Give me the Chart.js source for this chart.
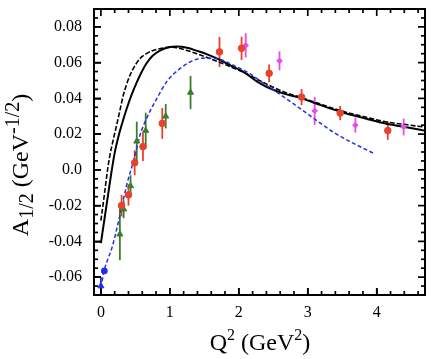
<!DOCTYPE html>
<html><head><meta charset="utf-8">
<script src="https://cdn.jsdelivr.net/npm/chart.js@4.4.0/dist/chart.umd.min.js"></script>
<style>html,body{margin:0;padding:0;background:#fff;}#wrap{width:438px;height:359px;}</style>
</head><body><div id="wrap"><canvas id="c" width="438" height="359"></canvas></div>
<script>
// ---- tick values / labels ----
const xTickValues = [0, 1, 2, 3, 4];
const xTickLabels = ['0', '1', '2', '3', '4'];
const yTickValues = [-0.06, -0.04, -0.02, 0, 0.02, 0.04, 0.06, 0.08];
const yTickLabels = ['-0.06', '-0.04', '-0.02', '0.0', '0.02', '0.04', '0.06', '0.08'];
const xMinorTicks = [0, 0.2, 0.4, 0.6, 0.8, 1, 1.2, 1.4, 1.6, 1.8, 2, 2.2, 2.4, 2.6, 2.8, 3, 3.2, 3.4, 3.6, 3.8, 4, 4.2, 4.4, 4.6];
const yMinorTicks = [-0.065, -0.06, -0.055, -0.05, -0.045, -0.04, -0.035, -0.03, -0.025, -0.02, -0.015, -0.01, -0.005, 0, 0.005, 0.01, 0.015, 0.02, 0.025, 0.03, 0.035, 0.04, 0.045, 0.05, 0.055, 0.06, 0.065, 0.07, 0.075, 0.08, 0.085];

// ---- theory curves ----
const solidX = [0.0, 0.05, 0.1, 0.15, 0.2, 0.25, 0.3, 0.37, 0.45, 0.52, 0.6, 0.66, 0.75, 0.85, 1.0, 1.1, 1.25, 1.4, 1.55, 1.72, 1.9, 2.05, 2.26, 2.4, 2.64, 2.88, 3.13, 3.46, 3.85, 4.14, 4.45, 4.72];
const solidY = [-0.041, -0.028, -0.015, -0.002, 0.0095, 0.018, 0.025, 0.0338, 0.0425, 0.049, 0.0555, 0.0595, 0.0638, 0.0666, 0.0687, 0.069, 0.0683, 0.0665, 0.0645, 0.0617, 0.058, 0.0553, 0.0495, 0.0465, 0.0428, 0.0404, 0.037, 0.0327, 0.0286, 0.0258, 0.0237, 0.0218];

const dashX = [0.0, 0.05, 0.1, 0.13, 0.18, 0.227, 0.28, 0.324, 0.37, 0.42, 0.49, 0.565, 0.66, 0.758, 0.9, 1.0, 1.1, 1.25, 1.39, 1.55, 1.72, 1.9, 2.1, 2.3, 2.5, 2.7, 2.9, 3.13, 3.46, 3.85, 4.14, 4.45, 4.72];
const dashY = [-0.0284, -0.014, 0.001, 0.008, 0.017, 0.0248, 0.034, 0.0416, 0.0475, 0.0528, 0.058, 0.0622, 0.065, 0.0668, 0.0682, 0.0686, 0.0683, 0.0668, 0.065, 0.0627, 0.0602, 0.0573, 0.054, 0.05, 0.0462, 0.043, 0.0405, 0.0375, 0.0333, 0.0294, 0.0268, 0.0252, 0.0238];

const blueX = [0.0, 0.048, 0.1, 0.155, 0.275, 0.372, 0.468, 0.517, 0.565, 0.66, 0.81, 0.95, 1.145, 1.34, 1.48, 1.68, 1.92, 2.16, 2.3, 2.4, 2.55, 2.69, 2.88, 3.13, 3.37, 3.61, 3.97];
const blueY = [-0.066, -0.0564, -0.05, -0.0443, -0.0256, -0.0088, 0.0043, 0.0118, 0.0192, 0.0286, 0.0398, 0.0491, 0.0566, 0.0612, 0.0625, 0.0622, 0.0586, 0.0538, 0.05, 0.0473, 0.0435, 0.0398, 0.0346, 0.0276, 0.0211, 0.0159, 0.009];

// ---- data points (value, error) ----
const redX = [0.30, 0.40, 0.49, 0.61, 0.89, 1.72, 2.04, 2.44, 2.91, 3.47, 4.16];
const redY = [-0.020, -0.014, 0.004, 0.013, 0.026, 0.066, 0.068, 0.054, 0.0407, 0.0318, 0.022];
const redErr = [0.006, 0.006, 0.007, 0.008, 0.0086, 0.0084, 0.0065, 0.005, 0.0045, 0.004, 0.0052];

const greenX = [0.275, 0.33, 0.43, 0.52, 0.65, 0.94, 1.30];
const greenY = [-0.036, -0.022, -0.009, 0.016, 0.022, 0.030, 0.0433];
const greenErr = [0.0145, 0.005, 0.006, 0.011, 0.01, 0.0068, 0.0093];

const pinkX = [2.10, 2.59, 3.10, 3.69, 4.39];
const pinkY = [0.0697, 0.061, 0.033, 0.025, 0.024];
const pinkErr = [0.0068, 0.0053, 0.0078, 0.0042, 0.0047];

const blueSqX = [0.05];
const blueSqY = [-0.0565];
const blueSqErr = [0.0015];
const blueTriX = [0.0];
const blueTriY = [-0.065];
const blueTriErr = [0.005];

const RED = '#e8412c', GREEN = '#3c7d2c', PINK = '#e84be8', BLUE = '#1f2fe6';

const pts = (xs, ys) => xs.map((x, i) => ({x: x, y: ys[i]}));

const errorSets = [
  {x: redX, y: redY, e: redErr, c: RED},
  {x: greenX, y: greenY, e: greenErr, c: GREEN},
  {x: pinkX, y: pinkY, e: pinkErr, c: PINK},
  {x: blueSqX, y: blueSqY, e: blueSqErr, c: BLUE},
  {x: blueTriX, y: blueTriY, e: blueTriErr, c: BLUE}
];

const xTickMarks = xMinorTicks.map(v => ({v: v, major: xTickValues.indexOf(v) >= 0}));
const yTickMarks = yMinorTicks.map(v => ({v: v, major: yTickValues.some(t => Math.abs(t - v) < 1e-9)}));

const SERIF = '"Liberation Serif", "DejaVu Serif", serif';

function measureParts(ctx, parts) {
  let w = 0;
  parts.forEach(p => { ctx.font = p[1] + 'px ' + SERIF; w += ctx.measureText(p[0]).width; });
  return w;
}
function drawParts(ctx, parts, x, y) {
  let cx = x;
  parts.forEach(p => {
    ctx.font = p[1] + 'px ' + SERIF;
    ctx.fillText(p[0], cx, y + p[2]);
    cx += ctx.measureText(p[0]).width;
  });
}

const errorPlugin = {
  id: 'errbars',
  beforeDatasetsDraw(chart) {
    const {ctx, chartArea: a} = chart;
    const xs = chart.scales.x, ys = chart.scales.y;
    ctx.save();
    ctx.beginPath(); ctx.rect(a.left, a.top, a.right - a.left, a.bottom - a.top); ctx.clip();
    ctx.lineWidth = 1.8;
    errorSets.forEach(s => {
      ctx.strokeStyle = s.c;
      s.x.forEach((xv, i) => {
        const px = xs.getPixelForValue(xv);
        ctx.beginPath();
        ctx.moveTo(px, ys.getPixelForValue(s.y[i] - s.e[i]));
        ctx.lineTo(px, ys.getPixelForValue(s.y[i] + s.e[i]));
        ctx.stroke();
      });
    });
    ctx.restore();

    ctx.save();
    ctx.strokeStyle = '#000000';
    ctx.lineWidth = 1.7;
    xTickMarks.forEach(t => {
      const px = xs.getPixelForValue(t.v);
      const L = t.major ? 7 : 4;
      ctx.beginPath();
      ctx.moveTo(px, a.bottom); ctx.lineTo(px, a.bottom - L);
      ctx.stroke();
      ctx.beginPath();
      ctx.moveTo(px, a.top); ctx.lineTo(px, a.top + L);
      ctx.stroke();
    });
    yTickMarks.forEach(t => {
      const py = ys.getPixelForValue(t.v);
      const L = t.major ? 7 : 4;
      ctx.beginPath();
      ctx.moveTo(a.left, py); ctx.lineTo(a.left + L, py);
      ctx.stroke();
      ctx.beginPath();
      ctx.moveTo(a.right, py); ctx.lineTo(a.right - L, py);
      ctx.stroke();
    });
    ctx.restore();
  },
  afterDatasetsDraw(chart) {
    const ctx = chart.ctx;
    const a = chart.chartArea;
    ctx.save();
    ctx.strokeStyle = '#000000';
    ctx.setLineDash([]);
    ctx.lineWidth = 2;
    ctx.strokeRect(a.left, a.top, a.right - a.left, a.bottom - a.top);
    ctx.restore();
  }
};

const titlePlugin = {
  id: 'titles',
  afterDraw(chart) {
    const ctx = chart.ctx;
    ctx.save();
    ctx.fillStyle = '#000000';
    ctx.textBaseline = 'alphabetic';
    ctx.textAlign = 'left';
    const xParts = [['Q', 24, 0], ['2', 16, -10], [' (GeV', 24, 0], ['2', 16, -10], [')', 24, 0]];
    const xw = measureParts(ctx, xParts);
    drawParts(ctx, xParts, 260 - xw / 2, 350);

    const yParts = [['A', 24, 0], ['1/2', 20, 5], [' (GeV', 24, 0], ['-1/2', 20, -9], [')', 24, 0]];
    const yw = measureParts(ctx, yParts);
    ctx.translate(28, 165);
    ctx.rotate(-Math.PI / 2);
    drawParts(ctx, yParts, -yw / 2, 0);
    ctx.restore();
  }
};

const lineDs = (xs, ys, color, width, dash) => ({
  data: pts(xs, ys), showLine: true, borderColor: color, borderWidth: width,
  borderDash: dash, pointRadius: 0, fill: false, cubicInterpolationMode: 'monotone'
});
const ptDs = (xs, ys, color, style, r) => ({
  data: pts(xs, ys), showLine: false, pointStyle: style, pointRadius: r,
  backgroundColor: color, borderColor: color, borderWidth: 1
});

const inwardGrid = {display: true, drawOnChartArea: false, drawTicks: true, tickLength: -7, color: '#000000', lineWidth: 1.7};

new Chart(document.getElementById('c'), {
  type: 'scatter',
  data: {
    datasets: [
      ptDs(redX, redY, RED, 'circle', 3.3),
      ptDs(greenX, greenY, GREEN, 'triangle', 3.5),
      ptDs(pinkX, pinkY, PINK, 'rectRot', 2.8),
      ptDs(blueSqX, blueSqY, BLUE, 'rectRounded', 3.2),
      ptDs(blueTriX, blueTriY, BLUE, 'triangle', 3.5),
      lineDs(blueX, blueY, '#2233e0', 1.5, [4, 2.5]),
      lineDs(dashX, dashY, '#000', 1.6, [5, 2]),
      lineDs(solidX, solidY, '#000', 2, [])
    ]
  },
  options: {
    responsive: false,
    devicePixelRatio: 1,
    animation: false,
    clip: true,
    layout: {padding: {left: 0, right: 13, top: 9, bottom: 0}},
    plugins: {legend: {display: false}, tooltip: {enabled: false}},
    scales: {
      x: {
        type: 'linear', min: -0.1, max: 4.7,
        grid: inwardGrid, border: {display: false},
        afterBuildTicks: s => { s.ticks = xTickValues.map(v => ({value: v})); },
        afterFit: s => { s.height = 64; s.paddingLeft = 0; s.paddingRight = 0; },
        ticks: {
          padding: 15, color: '#000', maxRotation: 0, autoSkip: false,
          font: {family: SERIF, size: 16},
          callback: (v) => { const i = xTickValues.indexOf(v); return i >= 0 ? xTickLabels[i] : ''; }
        }
      },
      y: {
        type: 'linear', min: -0.07, max: 0.09,
        grid: inwardGrid, border: {display: false},
        afterBuildTicks: s => { s.ticks = yTickValues.map(v => ({value: v})); },
        afterFit: s => { s.width = 94; s.paddingTop = 0; s.paddingBottom = 0; },
        ticks: {
          padding: 19, color: '#000', autoSkip: false,
          font: {family: SERIF, size: 16},
          callback: (v) => {
            const i = yTickValues.findIndex(t => Math.abs(t - v) < 1e-9);
            return i >= 0 ? yTickLabels[i] : '';
          }
        }
      }
    }
  },
  plugins: [errorPlugin, titlePlugin]
});
</script></body></html>
